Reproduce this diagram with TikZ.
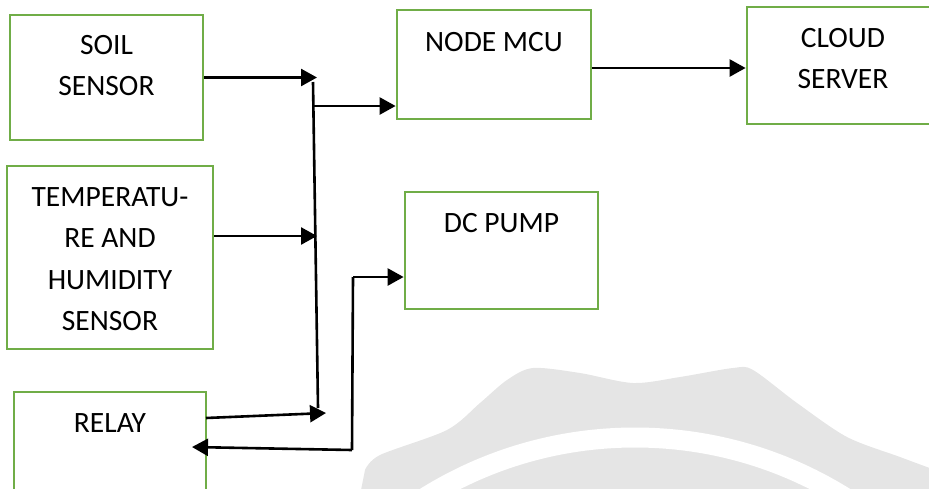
\documentclass[tikz,border=0pt]{standalone}
\usepackage{fontspec}
\setmainfont{Carlito}
\usetikzlibrary{arrows.meta}
\definecolor{boxgreen}{RGB}{112,173,71}
\definecolor{wmgray}{RGB}{229,229,229}
\tikzset{
  blk/.style={draw=boxgreen, line width=2.8pt, fill=white, rectangle, inner sep=0pt},
  lbl/.style={anchor=north, inner sep=0pt, align=center, font=\fontsize{29.5}{41.5}\selectfont},
  wire/.style={draw=black, line width=2.6pt},
  arr/.style={wire, -{Triangle[length=16pt,width=17pt]}}
}
\begin{document}
\begin{tikzpicture}[x=1pt,y=-1pt]
\useasboundingbox (0,0) rectangle (929,488);
% watermark
\begin{scope}
\clip (0,0) rectangle (929,488);
\fill[wmgray] plot[smooth] coordinates {(365,470) (380,455) (447,430) (480,403) (507,380) (533,368) (580,373) (633,383) (680,377) (733,368) (753,370) (797,403) (847,437) (900,457) (935,470)} -- (935,495) -- (360,495) -- cycle;
\draw[white, line width=20pt] (635,834.5) circle (397);
\end{scope}
% boxes
\node[blk, minimum width=193pt, minimum height=125pt] (soil) at (106.5,77.5) {};
\node[blk, minimum width=206pt, minimum height=183pt] (temp) at (110,257.5) {};
\node[blk, minimum width=192pt, minimum height=148pt] (relay) at (110,466) {};
\node[blk, minimum width=194pt, minimum height=109pt] (mcu) at (494,64.5) {};
\node[blk, minimum width=213pt, minimum height=117pt] (cloud) at (853.5,65.5) {};
\node[blk, minimum width=193pt, minimum height=117pt] (pump) at (501.5,250.5) {};
% labels
\node[lbl] (soilT) at (106.5,35) {SOIL\\SENSOR};
\node[lbl] (tempT) at (110,187) {TEMPERATU-\\RE AND\\HUMIDITY\\SENSOR};
\node[lbl] (relayT) at (110,413) {RELAY};
\node[lbl] (mcuT) at (494,32) {NODE MCU};
\node[lbl] (cloudT) at (843,28) {CLOUD\\SERVER};
\node[lbl] (pumpT) at (501.5,213) {DC PUMP};
% connector points
\coordinate (soilIn) at (317,77.5);
\coordinate (tempIn) at (317,236);
\coordinate (relayOut) at (206,418);
\coordinate (relayIn) at (326,413);
\coordinate (busTop) at (313,82);
\coordinate (busBot) at (318,408);
\coordinate (mcuFeed) at (313,106);
\coordinate (cloudLine) at (600,68);
\coordinate (pumpFeed) at (353,277);
\coordinate (retCorner) at (352,450);
\coordinate (retTip) at (192,447);
% connectors
\draw[arr] (soil.east) -- (soilIn);
\draw[arr] (temp.east |- tempIn) -- (tempIn);
\draw[arr] (relayOut) -- (relayIn);
\draw[wire] (busTop) -- (busBot);
\draw[arr] (mcuFeed) -- (mcu.west |- mcuFeed);
\draw[arr] (mcu.east |- cloudLine) -- (cloud.west |- cloudLine);
\draw[arr] (pumpFeed) -- (pump.west |- pumpFeed);
\draw[wire] (pumpFeed) -- (retCorner);
\draw[arr] (retCorner) -- (retTip);
\end{tikzpicture}
\end{document}
